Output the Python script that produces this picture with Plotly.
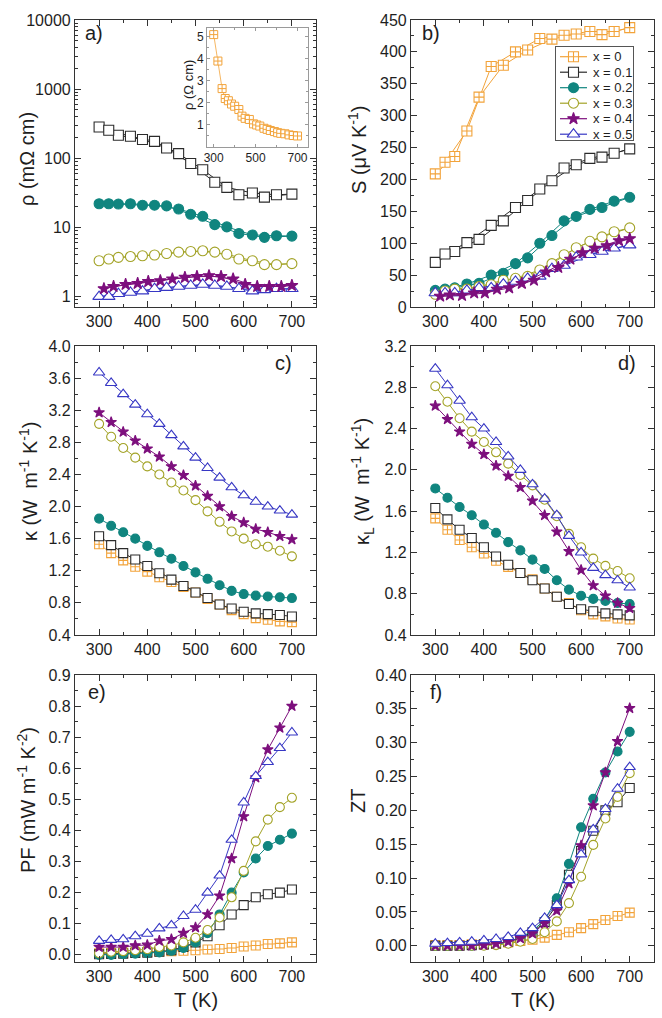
import plotly.graph_objects as go

W, H = 662, 1018

# ---------------- series meta ----------------
labels = ["x = 0", "x = 0.1", "x = 0.2", "x = 0.3", "x = 0.4", "x = 0.5"]
colors = ["#F2A33A", "#2B2B2B", "#10857F", "#A3A327", "#7D0F7D", "#3737C4"]
symbols = ["square-cross", "square", "circle", "circle", "star", "triangle-up"]
fills = ["white", "white", "#10857F", "white", "#7D0F7D", "white"]

# ---------------- temperatures ----------------
T_ab = [300, 320, 340, 365, 390, 415, 440, 465, 490, 515, 540, 565, 590, 618, 643, 668, 700]
T_star_ab = [310, 330, 355, 380, 402, 427, 452, 478, 503, 528, 553, 578, 603, 628, 653, 678, 700]
T25 = [300, 325, 350, 375, 400, 425, 450, 475, 500, 525, 550, 575, 600, 625, 650, 675, 700]

# ---------------- a) resistivity (mOhm cm) ----------------
rho_01 = [284, 255, 215, 208, 187, 176, 141, 117, 84, 68.5, 45, 38, 29.7, 31.5, 27.5, 29.7, 30.4]
rho_02 = [22, 22, 21.8, 22, 21, 21, 20.5, 18.5, 15.5, 14.5, 11, 10.2, 8.2, 7.8, 7.2, 7.6, 7.5]
rho_03 = [3.3, 3.5, 3.7, 3.8, 3.9, 4.0, 4.2, 4.4, 4.5, 4.6, 4.4, 4.1, 3.5, 3.3, 2.9, 2.9, 3.0]
rho_04 = [1.3, 1.4, 1.5, 1.55, 1.65, 1.7, 1.8, 1.9, 1.95, 2.0, 1.95, 1.8, 1.5, 1.4, 1.4, 1.4, 1.45]
rho_05 = [1.0, 1.0, 1.1, 1.15, 1.2, 1.3, 1.35, 1.4, 1.45, 1.5, 1.45, 1.4, 1.3, 1.2, 1.25, 1.3, 1.3]

# inset: x = 0 resistivity (Ohm cm)
T_in = [300, 320, 340, 355, 370, 385, 400, 420, 435, 450, 470, 490, 505, 520, 540, 555,
        570, 590, 605, 620, 640, 660, 680, 700]
rho_in = [5.1, 3.9, 2.65, 2.2, 2.1, 1.95, 1.85, 1.7, 1.4, 1.3, 1.25, 1.05, 1.0, 0.95, 0.85, 0.8,
          0.75, 0.7, 0.65, 0.62, 0.6, 0.55, 0.52, 0.5]

# ---------------- b) Seebeck (uV/K) ----------------
S_00 = [208.7, 227, 236, 276, 329, 377, 379, 400, 403, 421, 420, 426, 428, 432, 427, 432, 438]
S_01 = [70, 83, 87, 101, 106, 128, 135, 156, 167, 185, 198, 218, 223, 233, 235, 241, 248]
S_02 = [26, 28, 30, 36, 37, 50, 53, 68, 77, 100, 112, 135, 142, 153, 156, 166, 172]
S_03 = [20, 25, 28, 28, 32, 35, 42, 45, 48, 58, 68, 82, 93, 103, 110, 118, 124]
S_04 = [17, 19, 18, 22, 22, 28, 30, 37, 42, 55, 62, 75, 85, 92, 96, 104, 107]
S_05 = [22, 22, 22, 26, 30, 30, 36, 40, 45, 48, 60, 65, 78, 82, 87, 92, 97]

# ---------------- c) total thermal conductivity ----------------
k_00 = [1.53, 1.42, 1.33, 1.25, 1.19, 1.12, 1.06, 1.00, 0.93, 0.85, 0.78, 0.71, 0.66, 0.61, 0.59, 0.57, 0.56]
k_01 = [1.63, 1.52, 1.42, 1.34, 1.26, 1.17, 1.09, 1.01, 0.93, 0.86, 0.78, 0.73, 0.69, 0.67, 0.66, 0.65, 0.63]
k_02 = [1.85, 1.76, 1.68, 1.60, 1.51, 1.43, 1.35, 1.26, 1.18, 1.10, 1.02, 0.95, 0.91, 0.89, 0.88, 0.87, 0.86]
k_03 = [3.03, 2.87, 2.73, 2.61, 2.50, 2.40, 2.30, 2.20, 2.08, 1.94, 1.81, 1.69, 1.60, 1.53, 1.50, 1.45, 1.38]
k_04 = [3.17, 3.05, 2.93, 2.82, 2.72, 2.62, 2.50, 2.39, 2.26, 2.13, 2.00, 1.88, 1.80, 1.72, 1.68, 1.63, 1.59]
k_05 = [3.67, 3.54, 3.40, 3.27, 3.15, 3.03, 2.89, 2.75, 2.61, 2.48, 2.36, 2.24, 2.14, 2.06, 2.00, 1.95, 1.90]

# ---------------- d) lattice thermal conductivity ----------------
kL_00 = [1.53, 1.42, 1.32, 1.25, 1.19, 1.12, 1.06, 1.00, 0.94, 0.85, 0.77, 0.71, 0.64, 0.60, 0.58, 0.56, 0.55]
kL_01 = [1.63, 1.52, 1.42, 1.34, 1.25, 1.16, 1.08, 1.00, 0.93, 0.85, 0.77, 0.70, 0.65, 0.63, 0.61, 0.60, 0.59]
kL_02 = [1.82, 1.73, 1.64, 1.56, 1.47, 1.39, 1.30, 1.22, 1.13, 1.04, 0.93, 0.84, 0.78, 0.75, 0.73, 0.71, 0.70]
kL_03 = [2.81, 2.66, 2.50, 2.37, 2.27, 2.17, 2.06, 1.95, 1.85, 1.71, 1.55, 1.38, 1.25, 1.14, 1.07, 1.02, 0.95]
kL_04 = [2.62, 2.49, 2.37, 2.25, 2.15, 2.04, 1.94, 1.83, 1.70, 1.56, 1.40, 1.21, 1.03, 0.88, 0.78, 0.71, 0.66]
kL_05 = [2.98, 2.82, 2.67, 2.51, 2.40, 2.27, 2.13, 2.00, 1.86, 1.72, 1.56, 1.36, 1.20, 1.05, 0.98, 0.93, 0.86]

# ---------------- e) power factor ----------------
PF_00 = [0.005, 0.006, 0.007, 0.008, 0.009, 0.010, 0.012, 0.013, 0.015, 0.017, 0.019, 0.022, 0.027, 0.030, 0.035, 0.037, 0.040]
PF_01 = [0.002, 0.003, 0.004, 0.006, 0.007, 0.010, 0.015, 0.025, 0.040, 0.060, 0.095, 0.130, 0.160, 0.185, 0.195, 0.200, 0.210]
PF_02 = [0.000, 0.000, 0.002, 0.004, 0.005, 0.008, 0.013, 0.022, 0.040, 0.070, 0.130, 0.200, 0.265, 0.310, 0.350, 0.370, 0.390]
PF_03 = [0.005, 0.010, 0.012, 0.015, 0.018, 0.025, 0.030, 0.040, 0.055, 0.080, 0.120, 0.185, 0.270, 0.365, 0.435, 0.475, 0.505]
PF_04 = [0.025, 0.025, 0.025, 0.030, 0.032, 0.045, 0.050, 0.070, 0.088, 0.130, 0.190, 0.310, 0.445, 0.570, 0.660, 0.730, 0.800]
PF_05 = [0.045, 0.048, 0.050, 0.060, 0.068, 0.085, 0.095, 0.125, 0.145, 0.200, 0.255, 0.370, 0.490, 0.575, 0.620, 0.665, 0.715]

# ---------------- f) ZT ----------------
ZT_00 = [0.001, 0.001, 0.001, 0.002, 0.002, 0.003, 0.005, 0.007, 0.009, 0.012, 0.016, 0.020, 0.026, 0.032, 0.038, 0.044, 0.049]
ZT_01 = [0.000, 0.000, 0.000, 0.001, 0.002, 0.003, 0.006, 0.012, 0.020, 0.035, 0.060, 0.105, 0.140, 0.170, 0.200, 0.212, 0.233]
ZT_02 = [0.000, 0.000, 0.000, 0.000, 0.001, 0.002, 0.005, 0.012, 0.022, 0.038, 0.070, 0.121, 0.175, 0.217, 0.256, 0.287, 0.316]
ZT_03 = [0.000, 0.000, 0.000, 0.000, 0.000, 0.001, 0.003, 0.006, 0.010, 0.020, 0.036, 0.063, 0.102, 0.149, 0.188, 0.220, 0.255]
ZT_04 = [0.000, 0.000, 0.000, 0.000, 0.001, 0.003, 0.006, 0.011, 0.018, 0.033, 0.052, 0.092, 0.148, 0.207, 0.256, 0.302, 0.351]
ZT_05 = [0.003, 0.004, 0.005, 0.006, 0.008, 0.010, 0.013, 0.019, 0.026, 0.041, 0.060, 0.097, 0.135, 0.172, 0.202, 0.232, 0.264]

FONT = "Arial, Liberation Sans, sans-serif"
TXT = "#1e1e1e"
AX = "#333333"

fig = go.Figure()


def run_order(T, v):
    """Heating run (even points) then cooling run (odd points, reversed)."""
    n = len(T)
    idx = list(range(0, n, 2)) + list(range(1, n, 2))[::-1]
    return [T[i] for i in idx], [v[i] for i in idx]


def msize(i, base):
    if symbols[i] == "star":
        return base - 1
    if symbols[i] == "triangle-up":
        return base + 1
    return base


def add(xa, ya, T, v, i, size, zig=False, lw=1.0):
    if zig:
        T, v = run_order(T, v)
    fig.add_trace(go.Scatter(
        x=T, y=v, mode="lines+markers", name=labels[i], showlegend=False,
        xaxis=xa, yaxis=ya, cliponaxis=False,
        line=dict(color=colors[i], width=lw),
        marker=dict(symbol=symbols[i], size=msize(i, size), color=fills[i],
                    line=dict(color=colors[i], width=1.1)),
    ))


# a)
for i, v in zip([1, 2, 3, 5], [rho_01, rho_02, rho_03, rho_05]):
    add("x", "y", T_ab, v, i, 10, zig=True)
add("x", "y", T_star_ab, rho_04, 4, 10, zig=True)
# inset
fig.add_trace(go.Scatter(x=T_in, y=rho_in, mode="lines+markers", name=labels[0], showlegend=False,
                         xaxis="x7", yaxis="y7",
                         line=dict(color=colors[0], width=0.8),
                         marker=dict(symbol=symbols[0], size=8, color="white",
                                     line=dict(color=colors[0], width=1))))
# b)
for i, v in zip([0, 1, 2, 3, 5], [S_00, S_01, S_02, S_03, S_05]):
    add("x2", "y2", T_ab, v, i, 10, zig=True)
add("x2", "y2", T_star_ab, S_04, 4, 10, zig=True)
# c)
for i, v in enumerate([k_00, k_01, k_02, k_03, k_04, k_05]):
    add("x3", "y3", T25, v, i, 9)
# d)
for i, v in enumerate([kL_00, kL_01, kL_02, kL_03, kL_04, kL_05]):
    add("x4", "y4", T25, v, i, 9)
# e)
for i, v in enumerate([PF_00, PF_01, PF_02, PF_03, PF_04, PF_05]):
    add("x5", "y5", T25, v, i, 9)
# f)
for i, v in enumerate([ZT_00, ZT_01, ZT_02, ZT_03, ZT_04, ZT_05]):
    add("x6", "y6", T25, v, i, 9)

# ---------------- manual legend (panel b) ----------------
leg_y = [56.7, 72.2, 87.7, 103.2, 118.7, 134.2]
for i in range(6):
    fig.add_trace(go.Scatter(x=[560, 587], y=[leg_y[i]] * 2, mode="lines", showlegend=False,
                             hoverinfo="skip", xaxis="x8", yaxis="y8",
                             line=dict(color=colors[i], width=1.2)))
    fig.add_trace(go.Scatter(x=[573.5], y=[leg_y[i]], mode="markers", showlegend=False,
                             hoverinfo="skip", xaxis="x8", yaxis="y8",
                             marker=dict(symbol=symbols[i], size=msize(i, 10), color=fills[i],
                                         line=dict(color=colors[i], width=1.1))))

# ---------------- axes ----------------
def px(x):
    return x / W


def py(y):
    return 1 - y / H


colL = [px(75), px(316)]
colR = [px(411), px(654)]
row1 = [py(307), py(20)]
row2 = [py(635), py(346)]
row3 = [py(962), py(675)]


def axis(domain, anchor, rng, tickvals=None, dtick=None, minor_dtick=None, fmt=None, **kw):
    d = dict(domain=domain, anchor=anchor, range=rng, showline=True, linecolor=AX, linewidth=1.2,
             mirror="allticks", ticks="inside", ticklen=6, tickwidth=1.2, tickcolor=AX,
             showgrid=False, zeroline=False, automargin=False,
             tickfont=dict(family=FONT, size=16, color=TXT))
    if tickvals is not None:
        d["tickvals"] = tickvals
    if dtick is not None:
        d["dtick"] = dtick
        d["tick0"] = 0
    if fmt is not None:
        d["tickformat"] = fmt
    if minor_dtick is not None:
        d["minor"] = dict(ticks="inside", ticklen=3, tickwidth=1, tickcolor=AX,
                          dtick=minor_dtick, showgrid=False)
    d.update(kw)
    return d


xt = [300, 400, 500, 600, 700]
layout_axes = dict(
    xaxis=axis(colL, "y", [250, 750], tickvals=xt, minor_dtick=50),
    yaxis=axis(row1, "x", [-0.15, 4], type="log",
               tickvals=[1, 10, 100, 1000, 10000], ticktext=["1", "10", "100", "1000", "10000"],
               minor=dict(ticks="inside", ticklen=3, tickwidth=1, tickcolor=AX, dtick="D1", showgrid=False)),
    xaxis2=axis(colR, "y2", [250, 750], tickvals=xt, minor_dtick=50),
    yaxis2=axis(row1, "x2", [0, 450], dtick=50, minor_dtick=25),
    xaxis3=axis(colL, "y3", [250, 750], tickvals=xt, minor_dtick=50),
    yaxis3=axis(row2, "x3", [0.4, 4.0], dtick=0.4, minor_dtick=0.2, fmt=".1f"),
    xaxis4=axis(colR, "y4", [250, 750], tickvals=xt, minor_dtick=50),
    yaxis4=axis(row2, "x4", [0.4, 3.2], dtick=0.4, minor_dtick=0.2, fmt=".1f"),
    xaxis5=axis(colL, "y5", [250, 750], tickvals=xt, minor_dtick=50),
    yaxis5=axis(row3, "x5", [-0.023, 0.9], dtick=0.1, minor_dtick=0.05, fmt=".1f"),
    xaxis6=axis(colR, "y6", [250, 750], tickvals=xt, minor_dtick=50),
    yaxis6=axis(row3, "x6", [-0.024, 0.40], dtick=0.05, minor_dtick=0.025, fmt=".2f"),
    # inset
    xaxis7=dict(domain=[px(207), px(308)], anchor="y7", range=[268, 750], showline=True,
                linecolor="#9a9a9a", linewidth=1, mirror="allticks", ticks="inside", ticklen=3,
                tickcolor="#9a9a9a", tickvals=[300, 500, 700], showgrid=False, zeroline=False,
                automargin=False,
                minor=dict(ticks="inside", ticklen=2, dtick=100, tickcolor="#9a9a9a"),
                tickfont=dict(family=FONT, size=12, color=TXT)),
    yaxis7=dict(domain=[py(147), py(28)], anchor="x7", range=[0, 5.4], showline=True,
                linecolor="#9a9a9a", linewidth=1, mirror="allticks", ticks="inside", ticklen=3,
                tickcolor="#9a9a9a", tickvals=[1, 2, 3, 4, 5], showgrid=False, zeroline=False,
                automargin=False,
                minor=dict(ticks="inside", ticklen=2, dtick=0.5, tickcolor="#9a9a9a"),
                tickfont=dict(family=FONT, size=12, color=TXT)),
    # legend box
    xaxis8=dict(domain=[px(556), px(633)], anchor="y8", range=[556, 633], showline=True,
                linecolor="#555", linewidth=1, mirror=True, ticks="", showticklabels=False,
                showgrid=False, zeroline=False, fixedrange=True, automargin=False),
    yaxis8=dict(domain=[py(140), py(47)], anchor="x8", range=[140, 47], showline=True,
                linecolor="#555", linewidth=1, mirror=True, ticks="", showticklabels=False,
                showgrid=False, zeroline=False, fixedrange=True, automargin=False),
)

# ---------------- annotations ----------------
ann = []


def note(text, x, y, size=20, angle=0, xanchor="center", xref="paper", yref="paper"):
    ann.append(dict(text=text, x=x, y=y, xref=xref, yref=yref, showarrow=False,
                    textangle=angle, xanchor=xanchor, yanchor="middle",
                    font=dict(family=FONT, size=size, color=TXT)))


# panel letters
note("a)", px(94), py(33))
note("b)", px(431), py(33))
note("c)", px(283), py(363))
note("d)", px(627), py(363))
note("e)", px(97), py(692))
note("f)", px(436), py(692))

# axis titles
note("ρ (mΩ cm)", px(27), py(159), angle=-90)
note("S (μV K<sup>-1</sup>)", px(358), py(150), angle=-90)
note("κ (W  m<sup>-1</sup> K<sup>-1</sup>)", px(28), py(482), angle=-90)
note("κ<sub>L</sub> (W  m<sup>-1</sup> K<sup>-1</sup>)", px(362), py(482), angle=-90)
note("PF (mW m<sup>-1</sup> K<sup>-2</sup>)", px(26), py(800), angle=-90)
note("ZT", px(358), py(801), angle=-90)
note("T (K)", px(195.5), py(1000))
note("T (K)", px(532.5), py(1000))
# inset title
note("ρ (Ω cm)", px(189), py(85), size=13, angle=-90)

# legend texts
for i in range(6):
    note(labels[i], 591, leg_y[i], size=13, xanchor="left", xref="x8", yref="y8")

fig.update_layout(
    width=W, height=H, margin=dict(l=0, r=0, t=0, b=0, autoexpand=False),
    paper_bgcolor="white", plot_bgcolor="white",
    font=dict(family=FONT, color=TXT),
    showlegend=False, annotations=ann, **layout_axes,
)

fig.write_html("out.html", config={"displayModeBar": False},
               post_script="document.body.style.margin='0px';")
